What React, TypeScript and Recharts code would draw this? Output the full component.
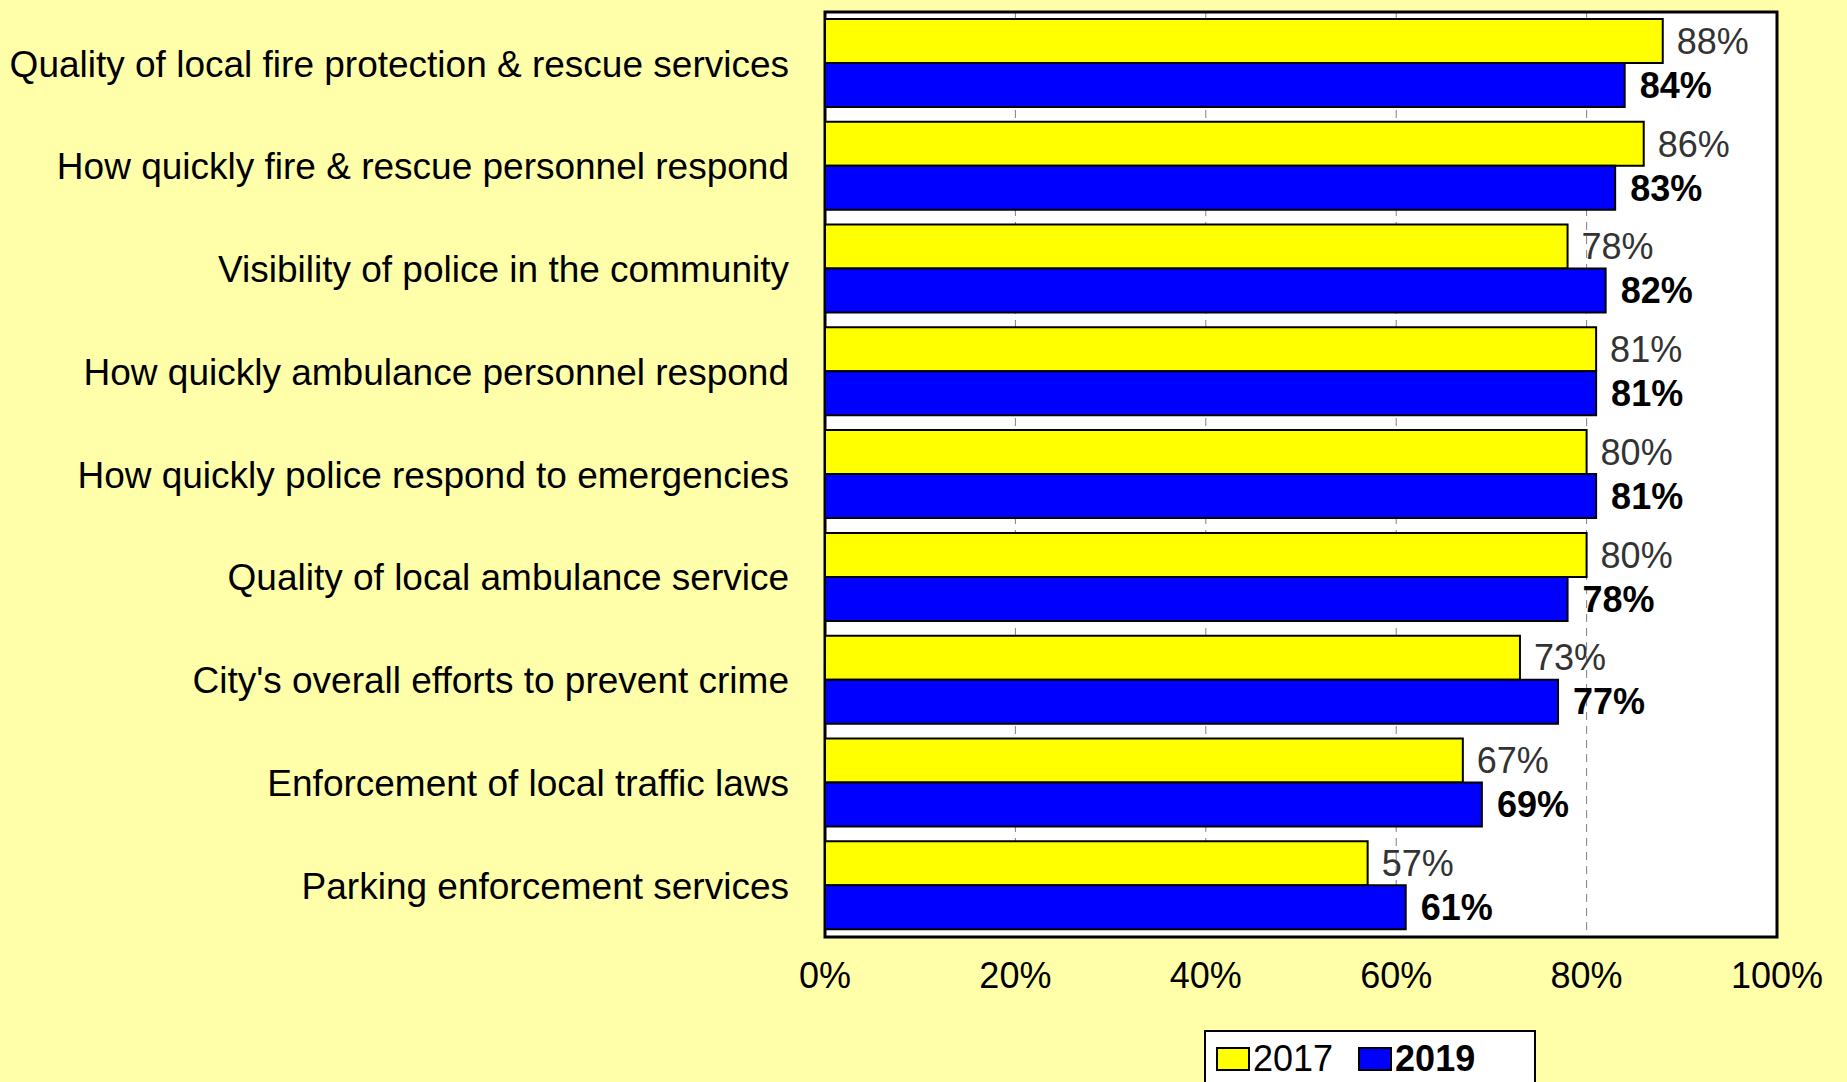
import { BarChart, Bar, XAxis, YAxis, CartesianGrid, Legend, LabelList, ReferenceArea } from 'recharts';

const categories = [
  'Quality of local fire protection & rescue services',
  'How quickly fire & rescue personnel respond',
  'Visibility of police in the community',
  'How quickly ambulance personnel respond',
  'How quickly police respond to emergencies',
  'Quality of local ambulance service',
  "City's overall efforts to prevent crime",
  'Enforcement of local traffic laws',
  'Parking enforcement services',
];
const values2017 = [88, 86, 78, 81, 80, 80, 73, 67, 57];
const values2019 = [84, 83, 82, 81, 81, 78, 77, 69, 61];
const xTicks = [0, 20, 40, 60, 80, 100];

const data = categories.map((name, i) => ({ name, y2017: values2017[i], y2019: values2019[i] }));

const pct = (v: any) => `${v}%`;

function LegendBox({ payload }: any) {
  return (
    <div
      style={{
        background: '#fff',
        border: '2px solid #000',
        borderBottom: 'none',
        height: 52,
        boxSizing: 'border-box',
        display: 'flex',
        alignItems: 'center',
        paddingLeft: 10,
        paddingTop: 4,
        fontSize: 36,
        color: '#000',
      }}
    >
      {(payload || []).map((p: any, i: number) => (
        <span key={p.value} style={{ display: 'flex', alignItems: 'center', marginRight: 25 }}>
          <span
            style={{
              display: 'inline-block',
              width: 30,
              height: 20,
              background: p.color,
              border: '2px solid #000',
              marginRight: 3,
            }}
          />
          <span style={{ fontWeight: i === 1 ? 'bold' : 'normal' }}>{p.value}</span>
        </span>
      ))}
    </div>
  );
}

export default function App() {
  return (
    <div
      style={{
        position: 'absolute',
        left: 0,
        top: 0,
        width: 1847,
        height: 1082,
        overflow: 'hidden',
        background: '#FFFFAA',
        fontFamily: '"Liberation Sans", Arial, sans-serif',
      }}
    >
      <BarChart
        width={1847}
        height={1082}
        data={data}
        layout="vertical"
        margin={{ top: 12, right: 70, left: 0, bottom: 0 }}
        barCategoryGap={7}
        barGap={0}
      >
        <CartesianGrid horizontal={false} stroke="#808080" strokeDasharray="8 6" fill="#ffffff" fillOpacity={1} />
        <XAxis
          type="number"
          domain={[0, 100]}
          ticks={xTicks}
          tickFormatter={pct}
          height={145}
          axisLine={false}
          tickLine={false}
          tickSize={0}
          tickMargin={25}
          tick={{ fontSize: 36, fill: '#000' }}
        />
        <YAxis
          type="category"
          dataKey="name"
          width={825}
          interval={0}
          axisLine={false}
          tickLine={false}
          tickSize={0}
          tickMargin={36}
          tick={{ fontSize: 37, fill: '#000' }}
        />
        <Legend
          layout="horizontal"
          verticalAlign="middle"
          align="center"
          wrapperStyle={{ left: 1204, top: 1030, width: 332, height: 52 }}
          content={<LegendBox />}
        />
        <Bar dataKey="y2017" name="2017" fill="#FFFF00" stroke="#000" strokeWidth={2} isAnimationActive={false}>
          <LabelList dataKey="y2017" position="right" offset={14} formatter={pct} fill="#333" fontSize={36} />
        </Bar>
        <Bar dataKey="y2019" name="2019" fill="#0000FF" stroke="#000" strokeWidth={2} isAnimationActive={false}>
          <LabelList dataKey="y2019" position="right" offset={15} formatter={pct} fill="#000" fontSize={36} fontWeight="bold" />
        </Bar>
        <ReferenceArea x1={0} x2={100} fill="none" stroke="#000" strokeWidth={3} />
      </BarChart>
    </div>
  );
}
